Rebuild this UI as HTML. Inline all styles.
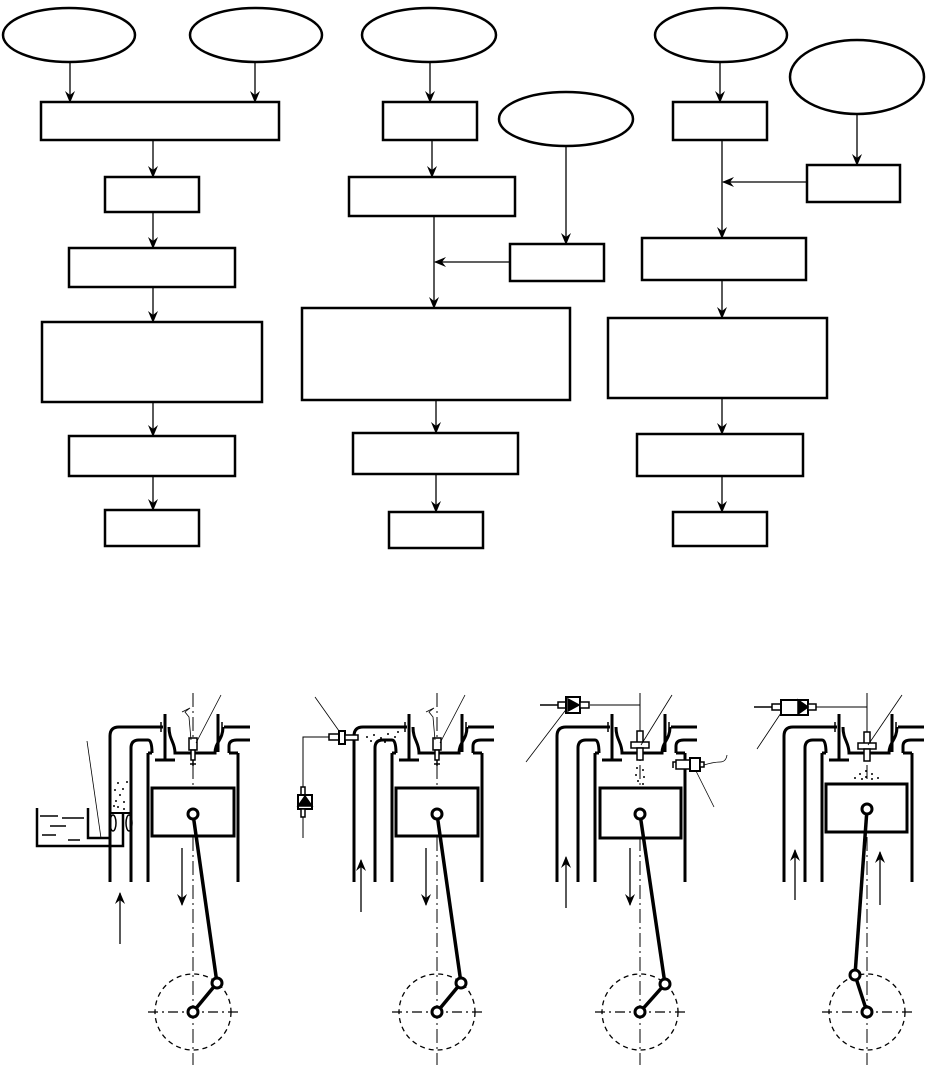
<!DOCTYPE html>
<html><head><meta charset="utf-8"><style>
html,body{margin:0;padding:0;background:#fff;}
svg{display:block;}
</style></head><body>
<svg width="927" height="1065" viewBox="0 0 927 1065" xmlns="http://www.w3.org/2000/svg">
<defs>
<marker id="ar" markerWidth="12" markerHeight="10" refX="11" refY="5" orient="auto" markerUnits="userSpaceOnUse">
<path d="M0,0 L12,5 L0,10 L4,5 Z" fill="#000"/>
</marker>
<g id="cyl" fill="none" stroke="#000">
 <!-- centerline -->
 <line x1="0" y1="693" x2="0" y2="1065" stroke-width="1" stroke-dasharray="14,4,2,4"/>
 <!-- cylinder walls -->
 <g stroke-width="3">
 <line x1="-45" y1="753" x2="-45" y2="882"/>
 <line x1="45" y1="753" x2="45" y2="882"/>
 <!-- head -->
 <path d="M-45,753 L-41,753"/>
 <path d="M-24,727 C-24,740 -18,742 -18,753 L18,753"/>
 <path d="M30,727 C30,740 22,742 22,753 L18,753"/>
 <path d="M45,753 L36,753"/>
 <!-- intake pipe -->
 <path d="M-83,882 L-83,736 Q-83,727 -74,727 L-30,727"/>
 <path d="M-62,882 L-62,748 Q-62,740 -54,740 L-45,740 Q-41,740 -41,753"/>
 <!-- exhaust pipe -->
 <path d="M31,727 L57,727"/>
 <path d="M36,753 L36,746 Q36,740 44,740 L57,740"/>
 <!-- valves -->
 <line x1="-28" y1="714" x2="-28" y2="760"/>
 <line x1="-38" y1="760" x2="-18" y2="760"/>
 <line x1="25" y1="714" x2="25" y2="752"/>
 </g>
 <line x1="-32" y1="722" x2="-32" y2="732" stroke-width="1.5"/>
 <line x1="29" y1="722" x2="29" y2="732" stroke-width="1.5"/>
 <!-- crank -->
 <circle cx="0" cy="1012" r="38" stroke-width="1.3" stroke-dasharray="5,4"/>
 <line x1="-45" y1="1012" x2="45" y2="1012" stroke-width="1.3" stroke-dasharray="10,4,2,4"/>
</g>
<g id="inj" fill="none" stroke="#000" stroke-width="1.5">
 <rect x="-4" y="738" width="8" height="12" fill="#fff"/>
 <rect x="-2" y="750" width="4" height="10" fill="#fff"/>
 <line x1="-3" y1="764" x2="3" y2="764"/>
 <line x1="0" y1="760" x2="0" y2="766"/>
</g>
</defs>

<!-- ===== Flowchart ===== -->
<g fill="#fff" stroke="#000" stroke-width="2.5">
 <ellipse cx="69" cy="35" rx="66" ry="27"/>
 <ellipse cx="256" cy="35" rx="66" ry="27"/>
 <ellipse cx="429" cy="35" rx="67" ry="27"/>
 <ellipse cx="566" cy="119" rx="67" ry="27"/>
 <ellipse cx="721" cy="35" rx="66" ry="27"/>
 <ellipse cx="857" cy="77" rx="67" ry="37"/>
 <rect x="41" y="102" width="238" height="38"/>
 <rect x="105" y="177" width="94" height="35"/>
 <rect x="69" y="248" width="166" height="39"/>
 <rect x="42" y="322" width="220" height="80"/>
 <rect x="69" y="436" width="166" height="40"/>
 <rect x="105" y="510" width="94" height="36"/>

 <rect x="383" y="102" width="94" height="38"/>
 <rect x="349" y="177" width="166" height="39"/>
 <rect x="510" y="244" width="94" height="37"/>
 <rect x="302" y="308" width="268" height="92"/>
 <rect x="353" y="433" width="165" height="41"/>
 <rect x="389" y="512" width="94" height="36"/>

 <rect x="673" y="102" width="94" height="38"/>
 <rect x="807" y="165" width="93" height="37"/>
 <rect x="642" y="238" width="164" height="42"/>
 <rect x="608" y="318" width="219" height="80"/>
 <rect x="637" y="434" width="166" height="42"/>
 <rect x="673" y="512" width="94" height="34"/>
</g>
<g stroke="#000" stroke-width="1.3" marker-end="url(#ar)">
 <line x1="70" y1="62" x2="70" y2="102"/>
 <line x1="255" y1="62" x2="255" y2="102"/>
 <line x1="153" y1="140" x2="153" y2="177"/>
 <line x1="153" y1="212" x2="153" y2="248"/>
 <line x1="153" y1="287" x2="153" y2="322"/>
 <line x1="153" y1="402" x2="153" y2="436"/>
 <line x1="153" y1="476" x2="153" y2="510"/>

 <line x1="430" y1="62" x2="430" y2="102"/>
 <line x1="432" y1="140" x2="432" y2="177"/>
 <line x1="434" y1="216" x2="434" y2="308"/>
 <line x1="566" y1="146" x2="566" y2="244"/>
 <line x1="510" y1="262" x2="435" y2="262"/>
 <line x1="436" y1="400" x2="436" y2="433"/>
 <line x1="436" y1="474" x2="436" y2="512"/>

 <line x1="720" y1="62" x2="720" y2="102"/>
 <line x1="722" y1="140" x2="722" y2="238"/>
 <line x1="857" y1="114" x2="857" y2="165"/>
 <line x1="807" y1="182" x2="723" y2="182"/>
 <line x1="722" y1="280" x2="722" y2="318"/>
 <line x1="722" y1="398" x2="722" y2="434"/>
 <line x1="722" y1="476" x2="722" y2="512"/>
</g>

<!-- ===== Engines ===== -->
<use href="#cyl" transform="translate(193,0)"/>
<use href="#cyl" transform="translate(437,0)"/>
<use href="#cyl" transform="translate(640,0)"/>
<use href="#cyl" transform="translate(867,0)"/>

<g fill="#fff" stroke="#000" stroke-width="3">
 <rect x="152" y="788" width="82" height="48"/>
 <rect x="396" y="788" width="82" height="48"/>
 <rect x="600" y="788" width="81" height="50"/>
 <rect x="826" y="784" width="81" height="48"/>
</g>
<!-- rods & cranks -->
<g stroke="#000" stroke-width="3.5" fill="none">
 <line x1="193" y1="814" x2="217" y2="983"/><line x1="193" y1="1012" x2="217" y2="983"/>
 <line x1="437" y1="814" x2="461" y2="983"/><line x1="437" y1="1012" x2="461" y2="983"/>
 <line x1="640" y1="814" x2="665" y2="984"/><line x1="640" y1="1012" x2="665" y2="984"/>
 <line x1="867" y1="809" x2="855" y2="975"/><line x1="867" y1="1012" x2="855" y2="975"/>
</g>
<g fill="#fff" stroke="#000" stroke-width="3">
 <circle cx="193" cy="814" r="5"/><circle cx="217" cy="983" r="5"/><circle cx="193" cy="1012" r="5"/>
 <circle cx="437" cy="814" r="5"/><circle cx="461" cy="983" r="5"/><circle cx="437" cy="1012" r="5"/>
 <circle cx="640" cy="814" r="5"/><circle cx="665" cy="984" r="5"/><circle cx="640" cy="1012" r="5"/>
 <circle cx="867" cy="809" r="5"/><circle cx="855" cy="975" r="5"/><circle cx="867" cy="1012" r="5"/>
</g>

<!-- injectors in head (engine1, 2) -->
<use href="#inj" transform="translate(193,0)"/>
<use href="#inj" transform="translate(437,0)"/>
<!-- direct injectors engine 3,4 -->
<g fill="#fff" stroke="#000" stroke-width="1.5">
 <rect x="637" y="731" width="6" height="12"/>
 <rect x="631" y="742" width="18" height="6"/>
 <rect x="637" y="748" width="6" height="12"/>
 <rect x="864" y="732" width="6" height="12"/>
 <rect x="858" y="743" width="18" height="6"/>
 <rect x="864" y="749" width="6" height="12"/>
</g>

<!-- leader lines & wires -->
<g stroke="#000" stroke-width="0.8" fill="none">
 <line x1="196" y1="743" x2="221" y2="695"/>
 <path d="M191,740 L189,717 L185,712 L190,708 L182,712"/>
 <line x1="440" y1="743" x2="465" y2="695"/>
 <path d="M435,740 L433,717 L429,712 L434,708 L426,712"/>
 <line x1="101" y1="838" x2="87" y2="741"/>
 <line x1="344" y1="738" x2="315" y2="697"/>
 <line x1="641" y1="745" x2="672" y2="695"/>
 <line x1="568" y1="707" x2="526" y2="762"/>
 <line x1="694" y1="767" x2="714" y2="807"/>
 <path d="M704,765 Q714,762 720,762 Q726,762 727,755"/>
 <line x1="868" y1="745" x2="902" y2="695"/>
 <line x1="783" y1="710" x2="757" y2="749"/>
 <!-- fuel lines -->
 <path d="M590,705 L640,705 L640,731" stroke-width="1"/>
 <path d="M815,707 L867,707 L867,732" stroke-width="1"/>
 <path d="M329,737 L303,737 L303,838" stroke-width="1"/>
 <line x1="540" y1="705" x2="558" y2="705" stroke-width="1.5"/>
 <line x1="754" y1="707" x2="772" y2="707" stroke-width="1.5"/>
</g>
<!-- pumps -->
<g fill="#fff" stroke="#000" stroke-width="1.5">
 <rect x="558" y="702" width="8" height="6"/>
 <rect x="566" y="697" width="14" height="16" stroke-width="2"/>
 <rect x="580" y="702" width="9" height="6"/>
 <path d="M568,699 L579,705 L568,711 Z" fill="#000"/>
 <rect x="772" y="704" width="9" height="6"/>
 <rect x="781" y="700" width="27" height="15" stroke-width="2"/>
 <rect x="808" y="704" width="8" height="6"/>
 <path d="M798,700 L808,707 L798,714 Z" fill="#000"/>
 <rect x="301" y="787" width="4" height="8"/>
 <rect x="298" y="795" width="14" height="14" stroke-width="2"/>
 <rect x="301" y="809" width="4" height="8"/>
 <path d="M298,806 L305,796 L312,806 Z" fill="#000"/>
 <!-- port injector engine 2 -->
 <rect x="329" y="734" width="14" height="6"/>
 <rect x="339" y="731" width="6" height="13" stroke-width="2"/>
 <rect x="345" y="735" width="13" height="5"/>
 <!-- spark plug engine 3 -->
 <rect x="676" y="760" width="14" height="9"/>
 <rect x="690" y="758" width="10" height="13" stroke-width="2"/>
 <rect x="700" y="762" width="4" height="5"/>
 <path d="M676,762 L673,762 L673,768" fill="none"/>
</g>
<!-- fuel tank / carburetor engine 1 -->
<g stroke="#000" fill="none" stroke-width="2.5">
 <path d="M37,808 L37,846 L123,846 L123,814"/>
 <path d="M88,808 L88,838 L110,838"/>
 <line x1="110" y1="813" x2="130" y2="813" stroke-width="2"/>
 <ellipse cx="113" cy="823" rx="3" ry="8" stroke-width="1.5"/>
 <ellipse cx="129" cy="823" rx="3" ry="8" stroke-width="1.5"/>
</g>
<g stroke="#000" stroke-width="1.5">
 <line x1="40" y1="816" x2="58" y2="816"/><line x1="50" y1="826" x2="66" y2="826"/>
 <line x1="42" y1="835" x2="56" y2="835"/><line x1="68" y1="840" x2="80" y2="840"/>
 <line x1="62" y1="818" x2="84" y2="818"/>
</g>
<!-- fuel mist dots -->
<g fill="#000">
 <circle cx="115" cy="790" r="1"/><circle cx="120" cy="795" r="1"/><circle cx="116" cy="801" r="1"/><circle cx="124" cy="802" r="1"/>
 <circle cx="118" cy="807" r="1"/><circle cx="124" cy="809" r="1"/><circle cx="114" cy="806" r="1"/><circle cx="127" cy="782" r="1"/>
 <circle cx="118" cy="783" r="1"/><circle cx="123" cy="789" r="1"/>
 <circle cx="367" cy="737" r="1"/><circle cx="374" cy="735" r="1"/><circle cx="381" cy="738" r="1"/><circle cx="388" cy="734" r="1"/>
 <circle cx="395" cy="737" r="1"/><circle cx="371" cy="741" r="1"/><circle cx="385" cy="742" r="1"/><circle cx="398" cy="732" r="1"/>
 <circle cx="637" cy="768" r="1"/><circle cx="643" cy="770" r="1"/><circle cx="636" cy="775" r="1"/><circle cx="644" cy="777" r="1"/>
 <circle cx="638" cy="781" r="1"/><circle cx="643" cy="784" r="1"/>
 <circle cx="855" cy="778" r="1"/><circle cx="860" cy="774" r="1"/><circle cx="866" cy="771" r="1"/><circle cx="872" cy="774" r="1"/>
 <circle cx="878" cy="778" r="1"/><circle cx="866" cy="777" r="1"/><circle cx="862" cy="779" r="1"/><circle cx="872" cy="779" r="1"/>
</g>
<!-- gas flow arrows -->
<g stroke="#000" stroke-width="1.3" marker-end="url(#ar)">
 <line x1="120" y1="944" x2="120" y2="893"/>
 <line x1="182" y1="848" x2="182" y2="905"/>
 <line x1="361" y1="912" x2="361" y2="860"/>
 <line x1="426" y1="848" x2="426" y2="905"/>
 <line x1="566" y1="908" x2="566" y2="857"/>
 <line x1="630" y1="848" x2="630" y2="905"/>
 <line x1="795" y1="900" x2="795" y2="850"/>
 <line x1="880" y1="905" x2="880" y2="852"/>
</g>
</svg>
</body></html>
